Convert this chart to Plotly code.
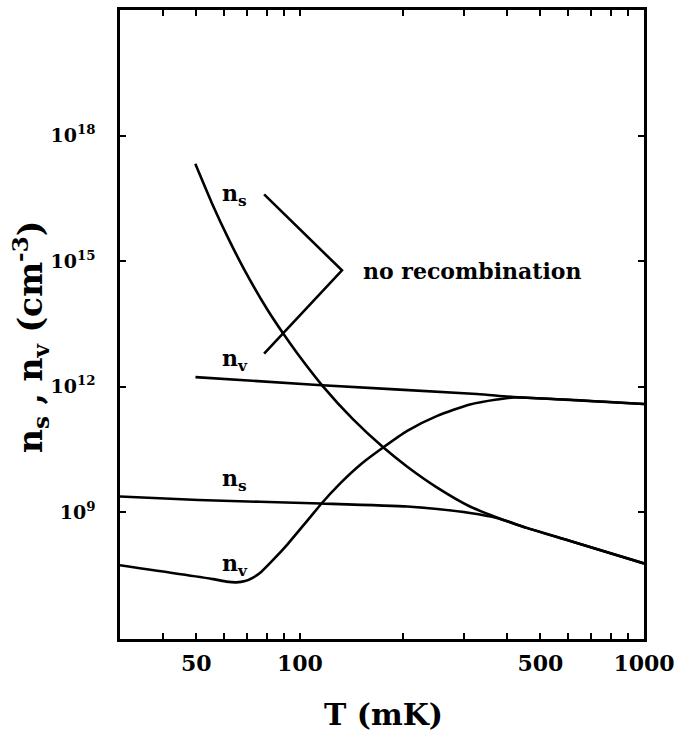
import numpy as np
import plotly.graph_objects as go

# Temperatures (mK) and log10 densities (cm^-3) for each curve
T_ns_norec = [49.65, 55.41, 61.93, 69.22, 80.40, 89.31, 98.68, 116.5, 142.3, 174.9, 205.1,
              250.6, 312.0, 373.5, 456.0, 607.1, 1000]
logn_ns_norec = [17.329, 16.40, 15.545, 14.769, 13.843, 13.274, 12.774, 12.012, 11.226, 10.540, 10.083,
                 9.583, 9.131, 8.869, 8.619, 8.310, 7.767]

T_nv_norec = [49.7, 112.7, 326.7, 418.3, 1000]
logn_nv_norec = [12.226, 12.036, 11.821, 11.750, 11.583]

T_ns_rec = [30.0, 50.7, 115.0, 205.1, 250.6, 312.0, 373.5, 456.0, 607.1, 1000]
logn_ns_rec = [9.369, 9.286, 9.202, 9.131, 9.071, 8.976, 8.857, 8.619, 8.310, 7.767]

T_nv_rec = [30.0, 56.07, 61.1, 65.3, 69.3, 73.1, 77.3, 84.5, 92.3, 100.9, 110.3, 115.2,
            131.6, 150.4, 174.9, 205.1, 250.6, 312.0, 373.5, 418.3, 1000]
logn_nv_rec = [7.726, 7.393, 7.333, 7.314, 7.345, 7.429, 7.571, 7.893, 8.238, 8.619, 9.000, 9.190,
               9.702, 10.143, 10.548, 10.940, 11.298, 11.571, 11.690, 11.738, 11.583]

# Bracket joining the two "no recombination" labels
bracket_T = [78.7, 132.5, 78.7]
bracket_logn = [16.60, 14.78, 12.79]

# Axis ticks
x_tickvals = [40, 50, 60, 70, 80, 90, 100, 200, 300, 400, 500, 600, 700, 800, 900, 1000]
x_ticktext = ["", "50", "", "", "", "", "100", "", "", "", "500", "", "", "", "", "1000"]
y_tickvals = [1e9, 1e12, 1e15, 1e18]
y_ticktext = ["10<sup>9</sup>", "10<sup>12</sup>", "10<sup>15</sup>", "10<sup>18</sup>"]

# Curve labels: (text, T, log10 n)
curve_labels = [
    ("n<sub>s</sub>", 58.7, 16.58),
    ("n<sub>v</sub>", 58.7, 12.64),
    ("n<sub>s</sub>", 58.7, 9.77),
    ("n<sub>v</sub>", 58.7, 7.73),
]

FONT = "DejaVu Serif"
line_style = dict(color="black", width=2.6)

fig = go.Figure()
for T, logn in [(T_ns_norec, logn_ns_norec), (T_nv_norec, logn_nv_norec),
                (T_ns_rec, logn_ns_rec), (T_nv_rec, logn_nv_rec)]:
    fig.add_trace(go.Scatter(x=T, y=10 ** np.array(logn), mode="lines",
                             line=dict(shape="spline", smoothing=0.6, **line_style),
                             showlegend=False, hoverinfo="skip"))

fig.add_trace(go.Scatter(x=bracket_T, y=10 ** np.array(bracket_logn), mode="lines",
                         line=line_style, showlegend=False, hoverinfo="skip"))

for text, T, logn in curve_labels:
    fig.add_annotation(x=np.log10(T), y=logn, xref="x", yref="y", text=text,
                       showarrow=False, xanchor="left", yanchor="middle",
                       font=dict(family=FONT, size=22, color="black", weight="bold"))

fig.add_annotation(x=np.log10(150.1), y=14.774, xref="x", yref="y", text="no recombination",
                   showarrow=False, xanchor="left", yanchor="middle",
                   font=dict(family=FONT, size=22, color="black", weight="bold"))

# Axis titles
fig.add_annotation(x=0.503, y=-0.12, xref="paper", yref="paper", text="T (mK)",
                   showarrow=False, xanchor="center", yanchor="middle",
                   font=dict(family=FONT, size=30, color="black", weight="bold"))
fig.add_annotation(x=-0.172, y=0.48, xref="paper", yref="paper",
                   text="n<sub>s</sub> , n<sub>v</sub> (cm<sup>-3</sup>)",
                   showarrow=False, textangle=-90, xanchor="center", yanchor="middle",
                   font=dict(family=FONT, size=33, color="black", weight="bold"))

axis_common = dict(showline=True, linecolor="black", linewidth=2.5, mirror="allticks",
                   ticks="inside", ticklen=6, tickwidth=2, tickcolor="black",
                   showgrid=False, zeroline=False)

fig.update_xaxes(type="log", range=[np.log10(30), 3], tickmode="array",
                 tickvals=x_tickvals, ticktext=x_ticktext, ticklabelstandoff=3,
                 tickfont=dict(family=FONT, size=22, color="black", weight="bold"),
                 **axis_common)
fig.update_yaxes(type="log", range=[5.96, 21.01], tickmode="array",
                 tickvals=y_tickvals, ticktext=y_ticktext, ticklabelstandoff=18,
                 tickfont=dict(family=FONT, size=19, color="black", weight="bold"),
                 **axis_common)

fig.update_layout(width=682, height=743, margin=dict(l=120, r=33, t=7, b=104),
                  paper_bgcolor="white", plot_bgcolor="white")

fig.write_html("out.html")
